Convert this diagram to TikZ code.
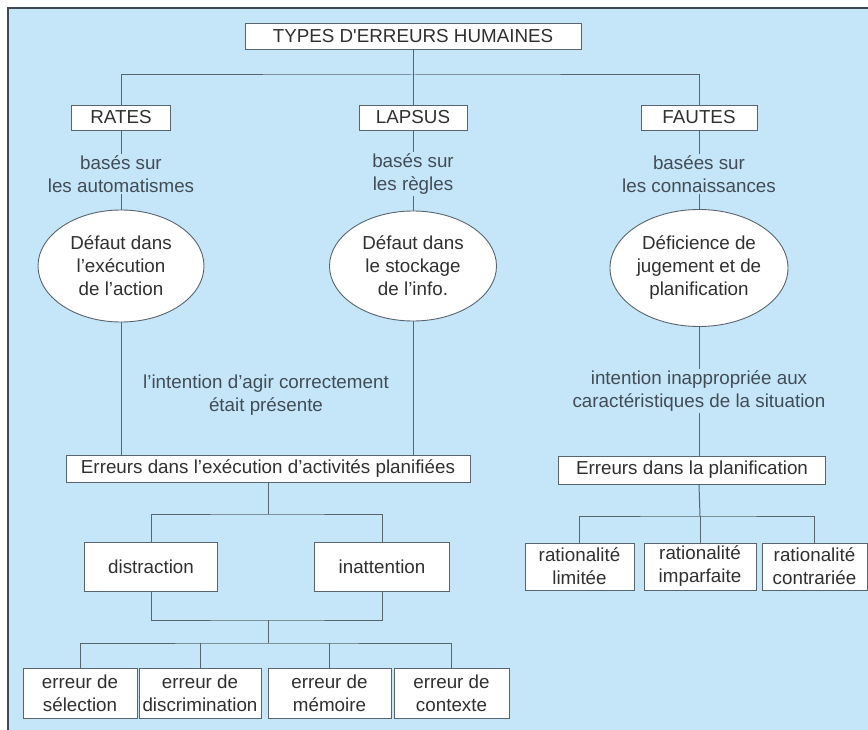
\documentclass[tikz,border=0pt]{standalone}
\usepackage{fontspec}
\setmainfont{Liberation Sans}
\usepackage{tikz}
\usepackage{xcolor}
\usetikzlibrary{shapes.geometric}
\definecolor{fondbleu}{RGB}{197,230,249}
\definecolor{cadre}{RGB}{62,72,82}
\definecolor{trait}{RGB}{88,100,110}
\definecolor{texte}{RGB}{48,48,48}
\definecolor{textenote}{RGB}{66,76,86}

\begin{document}
\begin{tikzpicture}[
            x=1pt, y=-1pt,
            every node/.style={font=\fontsize{18.8}{23}\selectfont, text=texte},
            box/.style={draw=trait, line width=0.9pt, fill=white, inner sep=0pt, align=center},
            oval/.style={ellipse, draw=trait, line width=0.9pt, fill=white, inner sep=0pt, align=center},
            note/.style={align=center, inner sep=1pt, text=textenote},
            wire/.style={draw=trait, line width=1pt},
        ]
            \useasboundingbox (0,0) rectangle (868,730);
            \fill[white] (0,0) rectangle (868,730);
            \fill[fondbleu] (8,8) rectangle (868,730);
            \draw[cadre, line width=1.2pt] (8,730) -- (8,8) -- (868,8);

            \node[box, minimum width=336pt, minimum height=26pt] (types) at (413,36) {TYPES D\textquotesingle ERREURS HUMAINES};

            \node[box, minimum width=99pt, minimum height=25pt] (rates) at (121,117.5) {RATES};
            \node[box, minimum width=108pt, minimum height=25pt] (lapsus) at (413,117.5) {LAPSUS};
            \node[box, minimum width=116pt, minimum height=25pt] (fautes) at (699,117.5) {FAUTES};

            \node[note] (baseR) at (121,174) {basés sur\\les automatismes};
            \node[note] (baseL) at (413,174) {basés sur\\les règles};
            \node[note] (baseF) at (699,174) {basées sur\\les connaissances};

            \node[oval, minimum width=166pt, minimum height=112pt] (ovR) at (121,266) {Défaut dans\\l’exécution\\de l’action};
            \node[oval, minimum width=167pt, minimum height=110pt] (ovL) at (413,266) {Défaut dans\\le stockage\\de l’info.};
            \node[oval, minimum width=178pt, minimum height=117pt] (ovF) at (699,268) {Déficience de\\jugement et de\\planification};

            \node[note] (intentG) at (266,395) {l’intention d’agir correctement\\était présente};
            \node[note] (intentF) at (699,391) {intention inappropriée aux\\caractéristiques de la situation};

            \node[box, minimum width=404pt, minimum height=27pt] (execBox) at (268,468.5) {Erreurs dans l’exécution d’activités planifiées};
            \node[box, minimum width=267pt, minimum height=28pt] (planif) at (692,470) {Erreurs dans la planification};

            \node[box, minimum width=133pt, minimum height=49pt] (distraction) at (151,567) {distraction};
            \node[box, minimum width=135pt, minimum height=49pt] (inattention) at (382,567) {inattention};

            \node[box, minimum width=109pt, minimum height=47pt] (limitee) at (579.5,566.5) {rationalité\\limitée};
            \node[box, minimum width=112pt, minimum height=47pt] (imparfaite) at (700,566.5) {rationalité\\imparfaite};
            \node[box, minimum width=105pt, minimum height=47pt] (contrariee) at (814.5,566.5) {rationalité\\contrariée};

            \node[box, minimum width=114pt, minimum height=50pt] (selection) at (80,693) {erreur de\\sélection};
            \node[box, minimum width=122pt, minimum height=50pt] (discrimination) at (200,693) {erreur de\\discrimination};
            \node[box, minimum width=123pt, minimum height=50pt] (memoire) at (329.5,693) {erreur de\\mémoire};
            \node[box, minimum width=115pt, minimum height=50pt] (contexte) at (451.5,693) {erreur de\\contexte};

            \coordinate (hubTop) at (413,75);
            \coordinate (hubExec) at (268,514);
            \coordinate (hubBas) at (268,620);
            \coordinate (hubErr) at (268,643);
            \coordinate (hubPlan) at (700,516);

            \draw[wire] (types.south) -- (lapsus.north);
            \draw[wire] (rates.north) |- (hubTop) -| (fautes.north);

            \draw[wire] (rates) -- (baseR) -- (ovR);
            \draw[wire] (lapsus) -- (baseL) -- (ovL);
            \draw[wire] (fautes) -- (baseF) -- (ovF);

            \draw[wire] (ovR.south) -- (ovR.south |- execBox.north);
            \draw[wire] (ovL.south) -- (ovL.south |- execBox.north);

            \draw[wire] (execBox.south) -- (hubExec);
            \draw[wire] (distraction.north) |- (hubExec) -| (inattention.north);
            \draw[wire] (distraction.south) |- (hubBas) -| (inattention.south);
            \draw[wire] (hubBas) -- (hubErr);
            \draw[wire] (selection.north) |- (hubErr) -| (contexte.north);
            \draw[wire] (discrimination.north) -- (discrimination.north |- hubErr);
            \draw[wire] (memoire.north) -- (memoire.north |- hubErr);

            \draw[wire] (ovF) -- (intentF);
            \draw[wire] (intentF.south) -- (intentF.south |- planif.north);
            \draw[wire] (intentF.south |- planif.south) -- (hubPlan);
            \draw[wire] (limitee.north) |- (hubPlan) -| (contrariee.north);
            \draw[wire] (imparfaite.north) -- (hubPlan);
        \end{tikzpicture}
\end{document}
